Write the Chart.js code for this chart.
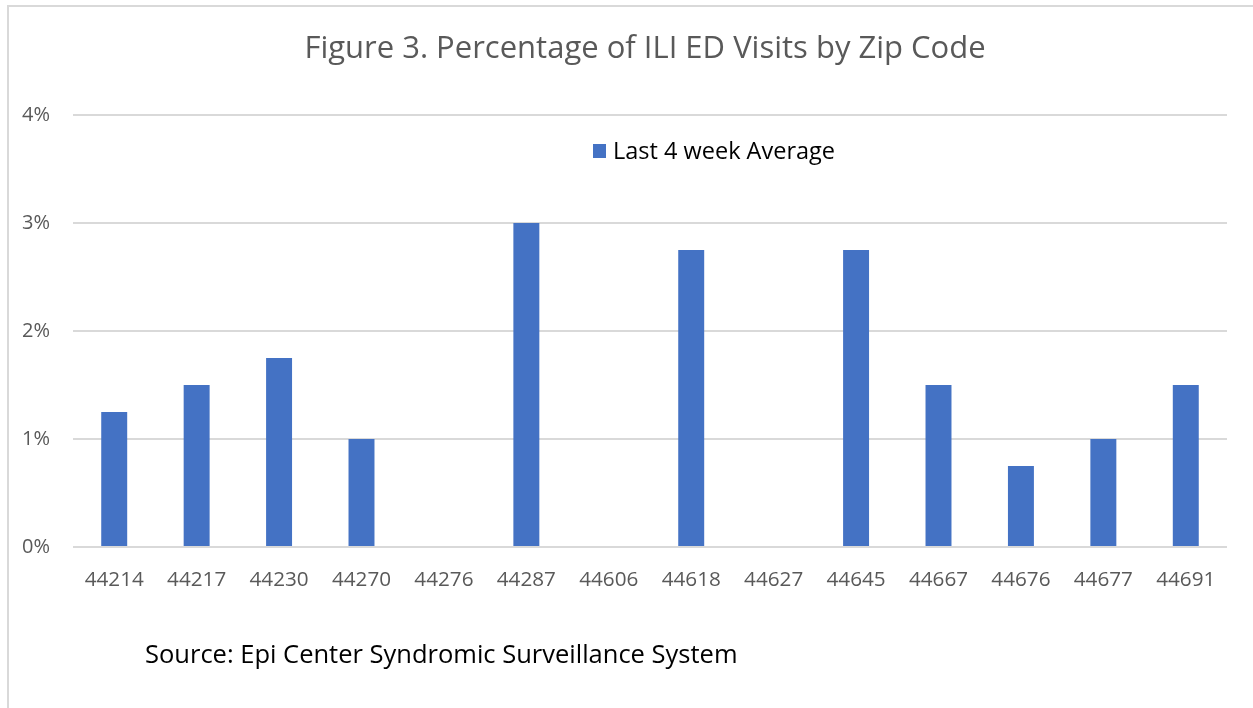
<!DOCTYPE html>
<html>
<head>
<meta charset="utf-8">
<script src="https://cdn.jsdelivr.net/npm/chart.js@4.4.1/dist/chart.umd.min.js"></script>
<style>
  html, body { margin: 0; padding: 0; background: #fff; overflow: hidden; }
  #wrap { position: relative; width: 1253px; height: 708px; }
  #frame { position: absolute; left: 7px; top: 5px; width: 1300px; height: 800px; border: 2px solid #d9d9d9; box-sizing: border-box; }
  #source { position: absolute; left: 145px; top: 636px; font-family: 'Open Sans', sans-serif; font-size: 25.5px; line-height: 35px; color: #000; white-space: nowrap; }
  canvas { position: absolute; left: 0; top: 0; }
</style>
</head>
<body>
<div id="wrap">
  <div id="frame"></div>
  <canvas id="chart" width="1253" height="708"></canvas>
  <div id="source">Source: Epi Center Syndromic Surveillance System</div>
</div>
<script>
const zipCodes = ['44214', '44217', '44230', '44270', '44276', '44287', '44606', '44618', '44627', '44645', '44667', '44676', '44677', '44691'];
const lastFourWeekAvg = [1.25, 1.5, 1.75, 1.0, 0, 3.0, 0, 2.75, 0, 2.75, 1.5, 0.75, 1.0, 1.5];
const yTicks = [0, 1, 2, 3, 4];

const chartTitle = 'Figure 3. Percentage of ILI ED Visits by Zip Code';
const textGray = '#595959';
const barBlue = '#4472C4';

// title is centred a bit right of the plot centre, so draw it ourselves
const offsetTitle = {
    id: 'offsetTitle',
    afterDraw(chart) {
        const ctx = chart.ctx;
        ctx.save();
        ctx.font = '31px "Open Sans"';
        ctx.fillStyle = textGray;
        ctx.textAlign = 'center';
        ctx.textBaseline = 'middle';
        ctx.fillText(chartTitle, 645, 49);
        ctx.restore();
    }
};

// legend sits inside the plot, between the 4% and 3% lines
const innerLegend = {
    id: 'innerLegend',
    afterDraw(chart) {
        const ctx = chart.ctx;
        const area = chart.chartArea;
        const ds = chart.data.datasets[0];
        const x = area.left + (593 - 73) / 1154 * (area.right - area.left);
        const y = area.top + 36;
        ctx.save();
        ctx.fillStyle = ds.backgroundColor;
        ctx.fillRect(x, y - 7, 13, 14);
        ctx.font = '23.5px "Open Sans"';
        ctx.fillStyle = '#000';
        ctx.textBaseline = 'middle';
        ctx.textAlign = 'left';
        ctx.fillText(ds.label, x + 20, y + 1);
        ctx.restore();
    }
};

new Chart(document.getElementById('chart'), {
    type: 'bar',
    data: {
        labels: zipCodes,
        datasets: [{
            label: 'Last 4 week Average',
            data: lastFourWeekAvg,
            backgroundColor: barBlue,
            barPercentage: 0.315,
            categoryPercentage: 1.0
        }]
    },
    options: {
        responsive: false,
        animation: false,
        layout: { padding: { left: 0, right: 26, top: 115, bottom: 111 } },
        plugins: {
            legend: { display: false },
            tooltip: { enabled: false },
            title: { display: false }
        },
        scales: {
            x: {
                grid: { display: false },
                border: { display: false },
                ticks: {
                    color: textGray,
                    font: { family: 'Open Sans', size: 20.7 },
                    padding: 13,
                    maxRotation: 0
                },
                afterFit(scale) { scale.height = 50; }
            },
            y: {
                min: 0,
                max: 4,
                afterBuildTicks(scale) { scale.ticks = yTicks.map(v => ({ value: v })); },
                grid: { color: '#d9d9d9', lineWidth: 2, drawTicks: false },
                border: { display: false },
                ticks: {
                    color: textGray,
                    font: { family: 'Open Sans', size: 20 },
                    padding: 23,
                    callback: v => v + '%'
                },
                afterFit(scale) { scale.width = 73; }
            }
        }
    },
    plugins: [offsetTitle, innerLegend]
});
</script>
</body>
</html>
